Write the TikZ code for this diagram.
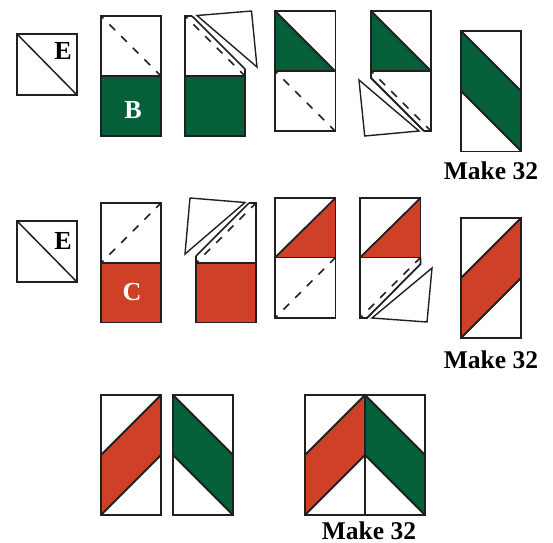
\documentclass[tikz,border=0pt]{standalone}
\usepackage{fontspec}
\setmainfont{Liberation Serif}
\definecolor{qgreen}{HTML}{05603A}
\definecolor{qred}{HTML}{CE4027}
\definecolor{qink}{HTML}{231F20}
\tikzset{
  patch/.style={draw=qink,line width=1.8pt,line join=miter},
  thin patch/.style={draw=qink,line width=1.5pt,line join=miter},
  flap/.style={draw=qink,line width=1.4pt,fill=white,line join=miter},
  seam/.style={draw=qink,line width=1.5pt,dash pattern=on 8pt off 8.5pt,dash phase=4.5pt},
  gfill/.style={fill=qgreen},
  rfill/.style={fill=qred},
  make/.style={font=\bfseries\fontsize{25.5}{25.5}\selectfont,text=black,inner sep=0pt,anchor=center},
  letter/.style={font=\bfseries\fontsize{26}{26}\selectfont,inner sep=0pt,anchor=center}
}
\begin{document}
\begin{tikzpicture}[x=1pt,y=-1pt]
\useasboundingbox (0,0) rectangle (553,542);
% Row 1
\draw[thin patch] (17,34) rectangle (77,95);
\draw[thin patch] (17,34) -- (77,95);
\node[letter,text=black] (e1) at (63,51) {E};

\fill[gfill] (101,76) rectangle (161,136);
\draw[patch] (101,16) rectangle (161,136);
\draw[patch] (101,76) -- (161,76);
\draw[seam] (101,16) -- (161,76);
\node[letter,text=white] (b) at (133,110.5) {B};

\fill[gfill] (185,76) rectangle (245,136);
\draw[patch] (192,16) -- (185,16) -- (185,136) -- (245,136) -- (245,69);
\draw[patch] (185,76) -- (245,76);
\draw[thin patch] (192,16) -- (245,69);
\draw[seam] (185,16) -- (245,76);
\draw[flap] (197,15.5) -- (251.5,11) -- (257,67) -- cycle;

\fill[gfill] (275,11) -- (335,71) -- (275,71) -- cycle;
\draw[patch] (275,11) rectangle (335.5,131);
\draw[patch] (275,71) -- (335.5,71);
\draw[patch] (275,11) -- (335,71);
\draw[seam] (275,71) -- (335,131);

\fill[gfill] (371,11) -- (431,71) -- (371,71) -- cycle;
\draw[patch] (371,11) rectangle (431,71);
\draw[patch] (371,11) -- (431,71);
\draw[patch] (371,71) -- (371,78) -- (424,131);
\draw[patch] (424,131) -- (431,131) -- (431,71);
\draw[seam] (371,71) -- (431,131);
\draw[flap] (359,80) -- (419,131) -- (364.7,136) -- cycle;

\fill[gfill] (461,31) -- (521,91) -- (521,151) -- (461,91) -- cycle;
\draw[patch] (461,31) rectangle (521,151.5);
\draw[patch] (461,31) -- (521,91);
\draw[patch] (461,91) -- (521,151);
\node[make] (m1) at (491,170.5) {Make 32};

% Row 2
\draw[thin patch] (17,221) rectangle (77,282);
\draw[thin patch] (17,221) -- (77,282);
\node[letter,text=black] (e2) at (63,241) {E};

\fill[rfill] (101,263) rectangle (161,322.5);
\draw[patch] (101,203) rectangle (161,322.5);
\draw[patch] (101,263) -- (161,263);
\draw[seam] (101,263) -- (161,203);
\node[letter,text=white] (c) at (132,292) {C};

\fill[rfill] (196,263) rectangle (256,322.5);
\draw[patch] (196,256) -- (196,322.5) -- (256,322.5) -- (256,203) -- (249,203);
\draw[patch] (196,263) -- (256,263);
\draw[thin patch] (196,256) -- (249,203);
\draw[seam] (196,263) -- (256,203);
\draw[flap] (185,254) -- (190,198) -- (245,202.5) -- cycle;

\fill[rfill] (275,257.5) -- (335.5,198) -- (335.5,257.5) -- cycle;
\draw[patch] (275,198) rectangle (335.5,318);
\draw[patch] (275,257.5) -- (335.5,257.5);
\draw[patch] (275,257.5) -- (335.5,198);
\draw[seam] (275,318) -- (335.5,257.5);

\fill[rfill] (360,257.5) -- (420.5,198) -- (420.5,257.5) -- cycle;
\draw[patch] (360,198) rectangle (420.5,257.5);
\draw[patch] (360,257.5) -- (420.5,198);
\draw[patch] (420.5,257.5) -- (420.5,264) -- (367,318) -- (360,318) -- (360,257.5);
\draw[seam] (360,318) -- (420.5,257.5);
\draw[flap] (372,318) -- (432,268) -- (427,322) -- cycle;

\fill[rfill] (461,338) -- (521,278) -- (521,218) -- (461,278) -- cycle;
\draw[patch] (461,218) rectangle (521,338);
\draw[patch] (461,278) -- (521,218);
\draw[patch] (461,338) -- (521,278);
\node[make] (m2) at (491,359.5) {Make 32};

% Row 3
\fill[rfill] (101,515) -- (161,455) -- (161,395) -- (101,455) -- cycle;
\draw[patch] (101,395) rectangle (161,515);
\draw[patch] (101,455) -- (161,395);
\draw[patch] (101,515) -- (161,455);

\fill[gfill] (173,395) -- (233,455) -- (233,515) -- (173,455) -- cycle;
\draw[patch] (173,395) rectangle (233,515);
\draw[patch] (173,395) -- (233,455);
\draw[patch] (173,455) -- (233,515);

\fill[rfill] (305,515) -- (365,455) -- (365,395) -- (305,455) -- cycle;
\fill[gfill] (365,395) -- (425,455) -- (425,515) -- (365,455) -- cycle;
\draw[patch] (305,395) rectangle (425,515);
\draw[patch] (365,395) -- (365,515);
\draw[patch] (305,455) -- (365,395) -- (425,455);
\draw[patch] (305,515) -- (365,455) -- (425,515);
\node[make] (m3) at (369,530.5) {Make 32};
\end{tikzpicture}
\end{document}
